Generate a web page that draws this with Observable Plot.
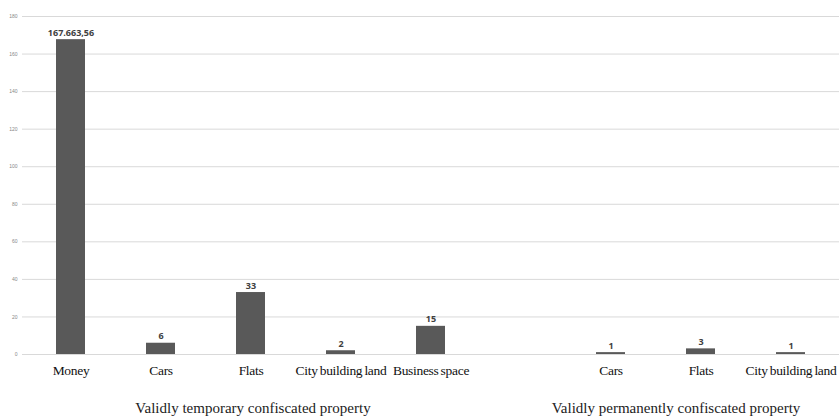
<!DOCTYPE html>
<html>
<head>
<meta charset="utf-8">
<script src="https://cdn.jsdelivr.net/npm/d3@7"></script>
<script src="https://cdn.jsdelivr.net/npm/@observablehq/plot@0.6"></script>
<style>
  html, body { margin: 0; padding: 0; background: #fff; }
  #chart svg { display: block; }
</style>
</head>
<body>
<div id="chart"></div>
<script>
// Data
const groups = ["temporary", "temporary", "temporary", "temporary", "temporary", "gap", "permanent", "permanent", "permanent"];
const categories = ["Money", "Cars", "Flats", "City building land", "Business space", "", "Cars", "Flats", "City building land"];
const values = [167.66356, 6, 33, 2, 15, null, 1, 3, 1];
const valueLabels = ["167.663,56", "6", "33", "2", "15", "", "1", "3", "1"];
const yTicks = [0, 20, 40, 60, 80, 100, 120, 140, 160, 180];
const groupTitles = ["Validly temporary confiscated property", "Validly permanently confiscated property"];
const groupTitleAnchors = ["temporary|Flats", "permanent|Flats"];

const rows = categories.map((c, i) => ({
  key: groups[i] + "|" + c,
  name: c,
  value: values[i],
  label: valueLabels[i]
}));
const bars = rows.filter(d => d.value != null);
const titles = groupTitles.map((t, i) => ({ key: groupTitleAnchors[i], title: t }));

const titleStyle = { fontSize: 15, fill: "#222", fontFamily: "Liberation Serif, serif" };

const chart = Plot.plot({
  width: 839,
  height: 417,
  marginLeft: 22,
  marginRight: 0,
  marginTop: 16,
  marginBottom: 63,
  style: { background: "#fff", overflow: "visible" },
  x: {
    domain: rows.map(d => d.key),
    paddingInner: 0.68,
    paddingOuter: 0.34,
    label: null
  },
  y: { domain: [0, 180], label: null },
  marks: [
    Plot.gridY(yTicks, { stroke: "#d9d9d9", strokeOpacity: 1, strokeWidth: 1 }),
    Plot.axisY(yTicks, {
      tickSize: 0, tickPadding: 5, fontSize: 5, fill: "#888",
      fontFamily: "Liberation Sans, sans-serif", label: null
    }),
    Plot.axisX({
      tickSize: 0, tickPadding: 11, fontSize: 13.5, fill: "#111",
      fontFamily: "Liberation Serif, serif", label: null,
      tickFormat: k => k.split("|")[1]
    }),
    Plot.barY(bars, { x: "key", y: "value", fill: "#595959" }),
    Plot.text(bars, {
      x: "key", y: "value", text: "label", dy: -4, lineAnchor: "bottom",
      fontSize: 9, fontWeight: "bold", fill: "#404040",
      fontFamily: "Open Sans, Liberation Sans, sans-serif"
    }),
    Plot.text([titles[0]], { x: "key", y: () => 0, text: "title", dy: 54, dx: 2, ...titleStyle }),
    Plot.text([titles[1]], { x: "key", y: () => 0, text: "title", dy: 54, dx: -25, ...titleStyle })
  ]
});
d3.select(chart).selectAll('[aria-label="x-axis tick label"] text')
  .style("letter-spacing", "-0.3px")
  .style("word-spacing", "-1px");
document.getElementById("chart").appendChild(chart);
</script>
</body>
</html>
